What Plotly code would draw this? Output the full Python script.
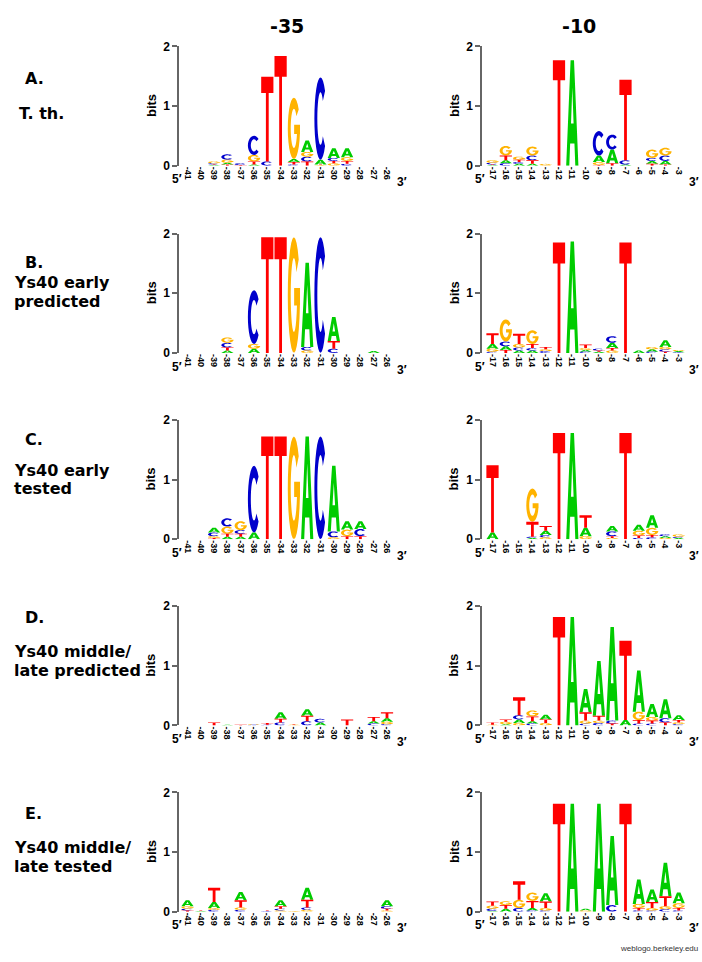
import math
import plotly.graph_objects as go

W, H = 702, 962

# ---------------- data ----------------
pos35 = [-41, -40, -39, -38, -37, -36, -35, -34, -33, -32, -31, -30, -29, -28, -27, -26]
pos10 = [-17, -16, -15, -14, -13, -12, -11, -10, -9, -8, -7, -6, -5, -4, -3]

# A. T. th.  (-35 box)
tth35_A = [0, 0, 0.01, 0.03, 0, 0.02, 0, 0, 0.05, 0.19, 0.08, 0.16, 0.15, 0, 0, 0]
tth35_C = [0, 0, 0.02, 0.09, 0.03, 0.32, 0.07, 0, 0.02, 0.08, 1.38, 0.05, 0.03, 0, 0, 0]
tth35_G = [0, 0, 0.03, 0.05, 0, 0.11, 0, 0, 1.03, 0.08, 0.01, 0.04, 0.06, 0, 0, 0]
tth35_T = [0, 0, 0.01, 0.02, 0.01, 0.05, 1.42, 1.84, 0.04, 0.07, 0.01, 0.04, 0.05, 0, 0, 0]
# A. T. th.  (-10 box)
tth10_A = [0.01, 0.05, 0.03, 0.03, 0, 0, 1.77, 0, 0.11, 0.23, 0.02, 0, 0.05, 0.06, 0]
tth10_C = [0.03, 0.04, 0.03, 0.08, 0, 0, 0, 0, 0.41, 0.25, 0.07, 0, 0.05, 0.09, 0]
tth10_G = [0.04, 0.16, 0.05, 0.15, 0.03, 0, 0, 0, 0.05, 0, 0, 0, 0.14, 0.13, 0]
tth10_T = [0.01, 0.08, 0.04, 0.06, 0, 1.77, 0, 0, 0.01, 0.04, 1.35, 0, 0.03, 0.02, 0]

# B. Ys40 early predicted
ep35_A = [0, 0, 0, 0.04, 0, 0.07, 0, 0, 0, 1.41, 0, 0.40, 0, 0, 0.03, 0]
ep35_C = [0, 0, 0, 0.08, 0, 0.90, 0, 0, 0, 0.06, 1.94, 0.07, 0, 0, 0, 0]
ep35_G = [0, 0, 0, 0.09, 0, 0.08, 0, 0, 1.94, 0.04, 0, 0, 0, 0, 0, 0]
ep35_T = [0, 0, 0, 0.05, 0, 0, 1.94, 1.94, 0, 0, 0, 0.13, 0, 0, 0, 0]
ep10_A = [0.08, 0.06, 0.04, 0.04, 0, 0, 1.87, 0.03, 0.02, 0.09, 0, 0.04, 0.04, 0.11, 0.02]
ep10_C = [0.02, 0.08, 0.05, 0.04, 0.03, 0, 0, 0.02, 0.03, 0.11, 0, 0, 0.02, 0.04, 0.01]
ep10_G = [0.05, 0.37, 0.06, 0.23, 0.03, 0, 0, 0.03, 0, 0.04, 0, 0, 0.04, 0.04, 0.02]
ep10_T = [0.18, 0.05, 0.17, 0.07, 0.04, 1.85, 0, 0.06, 0.02, 0.04, 1.85, 0, 0, 0.02, 0]

# C. Ys40 early tested
et35_A = [0, 0, 0.08, 0.04, 0.04, 0.11, 0, 0, 0, 1.72, 0, 1.10, 0.14, 0.13, 0, 0]
et35_C = [0, 0, 0.06, 0.14, 0.06, 1.12, 0, 0, 0, 0, 1.72, 0.10, 0, 0.12, 0, 0]
et35_G = [0, 0, 0.03, 0.12, 0.15, 0, 0, 0, 1.72, 0, 0, 0.03, 0.11, 0, 0, 0]
et35_T = [0, 0, 0.02, 0.05, 0.05, 0, 1.72, 1.72, 0, 0, 0, 0, 0.05, 0.05, 0, 0]
et10_A = [0.11, 0, 0, 0.02, 0.07, 0, 1.78, 0.14, 0, 0.09, 0, 0.10, 0.21, 0.03, 0.02]
et10_C = [0, 0, 0, 0.02, 0.04, 0, 0, 0, 0, 0.08, 0, 0.02, 0.03, 0.03, 0.02]
et10_G = [0, 0, 0, 0.56, 0.03, 0, 0, 0.05, 0, 0.02, 0, 0.08, 0.12, 0.02, 0.04]
et10_T = [1.13, 0, 0, 0.25, 0.08, 1.78, 0, 0.21, 0, 0.03, 1.78, 0.04, 0.04, 0, 0]

# D. Ys40 middle/late predicted
mp35_A = [0, 0, 0, 0.01, 0, 0, 0, 0.11, 0, 0.11, 0.05, 0, 0, 0, 0.04, 0.06]
mp35_C = [0, 0, 0, 0, 0, 0.01, 0.01, 0.05, 0, 0.07, 0.06, 0, 0, 0, 0.03, 0.02]
mp35_G = [0, 0, 0, 0, 0, 0.01, 0, 0, 0.01, 0, 0, 0, 0, 0, 0, 0.04]
mp35_T = [0, 0, 0.05, 0, 0.01, 0, 0.03, 0.06, 0.01, 0.09, 0, 0, 0.10, 0, 0.07, 0.10]
mp10_A = [0, 0.02, 0.06, 0.04, 0.08, 0, 1.82, 0.39, 0.92, 1.57, 0.09, 0.69, 0.22, 0.32, 0.08]
mp10_C = [0, 0, 0.07, 0.03, 0, 0, 0, 0.03, 0.04, 0.05, 0, 0.03, 0.03, 0.07, 0.02]
mp10_G = [0.01, 0.04, 0.04, 0.10, 0.04, 0, 0, 0.05, 0.04, 0, 0, 0.14, 0.06, 0, 0.03]
mp10_T = [0.04, 0.04, 0.30, 0.08, 0.06, 1.82, 0, 0.14, 0.08, 0.03, 1.33, 0.06, 0.05, 0.05, 0.04]

# E. Ys40 middle/late tested
mt35_A = [0.10, 0.01, 0.10, 0, 0.14, 0, 0, 0.10, 0, 0.20, 0, 0, 0, 0, 0, 0.10]
mt35_C = [0.03, 0, 0.03, 0, 0.03, 0, 0.01, 0.03, 0, 0.04, 0, 0, 0, 0, 0, 0.04]
mt35_G = [0.04, 0, 0.03, 0, 0.04, 0, 0, 0.02, 0.01, 0.03, 0, 0, 0, 0, 0, 0.02]
mt35_T = [0.02, 0.01, 0.24, 0, 0.12, 0, 0.01, 0.04, 0, 0.13, 0, 0, 0, 0, 0, 0.03]
mt10_A = [0.01, 0.05, 0, 0.04, 0.14, 0, 1.81, 0.03, 1.81, 1.16, 0, 0.41, 0.21, 0.56, 0.18]
mt10_C = [0.04, 0, 0.06, 0.02, 0.02, 0, 0, 0, 0, 0.11, 0, 0.02, 0.02, 0.04, 0.02]
mt10_G = [0.05, 0.065, 0.14, 0.14, 0.04, 0, 0, 0.02, 0, 0, 0, 0.07, 0.04, 0.05, 0.08]
mt10_T = [0.07, 0.06, 0.31, 0.12, 0.11, 1.81, 0, 0, 0, 0, 1.81, 0.04, 0.10, 0.17, 0.04]

row_letters = ["A.", "B.", "C.", "D.", "E."]
row_names = [["T. th."], ["Ys40 early", "predicted"], ["Ys40 early", "tested"],
             ["Ys40 middle/", "late predicted"], ["Ys40 middle/", "late tested"]]
col_titles = ["-35", "-10"]

panels = [
    [(tth35_A, tth35_C, tth35_G, tth35_T), (tth10_A, tth10_C, tth10_G, tth10_T)],
    [(ep35_A, ep35_C, ep35_G, ep35_T), (ep10_A, ep10_C, ep10_G, ep10_T)],
    [(et35_A, et35_C, et35_G, et35_T), (et10_A, et10_C, et10_G, et10_T)],
    [(mp35_A, mp35_C, mp35_G, mp35_T), (mp10_A, mp10_C, mp10_G, mp10_T)],
    [(mt35_A, mt35_C, mt35_G, mt35_T), (mt10_A, mt10_C, mt10_G, mt10_T)],
]

# ---------------- styles / geometry ----------------
LETTERS = ["A", "C", "G", "T"]
COLORS = {"A": "#00cc00", "C": "#0000cc", "G": "#ffb300", "T": "#ff0000"}


def arc(cx, cy, rx, ry, a0, a1, n=24):
    out = []
    for k in range(n + 1):
        t = math.radians(a0 + (a1 - a0) * k / n)
        out.append((cx + rx * math.cos(t), cy + ry * math.sin(t)))
    return out


_gi = math.degrees(math.asin((0.41 - 0.5) / 0.32)) + 360
GLYPHS = {
    "T": [[(0, 1), (1, 1), (1, 0.81), (0.615, 0.81), (0.615, 0), (0.385, 0), (0.385, 0.81), (0, 0.81)]],
    "A": [[(0, 0), (0.36, 1), (0.64, 1), (1, 0), (0.745, 0), (0.675, 0.21), (0.325, 0.21), (0.255, 0)],
          [(0.395, 0.40), (0.605, 0.40), (0.5, 0.74)]],
    "C": [arc(0.5, 0.5, 0.5, 0.5, 42, 318) + arc(0.5, 0.5, 0.26, 0.32, 318, 42)],
    "G": [arc(0.5, 0.5, 0.5, 0.5, 38, 350) + [(1.0, 0.413), (1.0, 0.56), (0.52, 0.56), (0.52, 0.41)]
          + arc(0.5, 0.5, 0.26, 0.32, _gi, 38)],
}

ROW_Y0 = [161, 351, 540, 729, 918]     # pixel row of 0 bits
ROW_PX = 121                              # pixels for 2 bits
COL_AXIS = [179, 482]
COL_END = [410, 700]
COL_FIRST = [187.5, 492.5]
STEP = 13.3
LETTER_W = 0.92

fig = go.Figure()
shapes = []
annotations = []
BOLD = dict(family="Liberation Sans", color="#000", weight="bold")


def note(text, px, py, size, family="Liberation Sans", xanchor="center", angle=0, color="#000", weight="bold"):
    annotations.append(dict(text=text, x=px / W, y=(H - py) / H, xref="paper", yref="paper",
                            xanchor=xanchor, yanchor="middle", showarrow=False, textangle=angle,
                            font=dict(size=size, family=family, color=color, weight=weight)))


for r in range(5):
    for c in range(2):
        k = r * 2 + c + 1
        xs = "x" if k == 1 else f"x{k}"
        ys = "y" if k == 1 else f"y{k}"
        xa = "xaxis" if k == 1 else f"xaxis{k}"
        ya = "yaxis" if k == 1 else f"yaxis{k}"
        pos = pos35 if c == 0 else pos10
        n = len(pos)
        y0 = ROW_Y0[r]
        y2 = y0 - ROW_PX
        lo = -(COL_FIRST[c] - COL_AXIS[c]) / STEP
        hi = lo + (COL_END[c] - COL_AXIS[c]) / STEP
        fig.update_layout(**{
            xa: dict(domain=[COL_AXIS[c] / W, COL_END[c] / W], range=[lo, hi], anchor=ys,
                     tickmode="array", tickvals=list(range(n)), ticktext=[str(p) for p in pos],
                     tickangle=90, tickfont=dict(size=9, **BOLD),
                     showline=False, showgrid=False, zeroline=False, ticks="", fixedrange=True),
            ya: dict(domain=[(H - y0) / H, (H - y2) / H], range=[0, 2], anchor=xs,
                     tickmode="array", tickvals=[0, 1, 2], ticktext=["0", "1", "2"],
                     ticks="outside", ticklen=5, tickwidth=1.5, tickcolor="#666",
                     showline=True, linecolor="#666", linewidth=1.5,
                     tickfont=dict(size=12, **BOLD),
                     showgrid=False, zeroline=False, fixedrange=True),
        })
        fig.add_trace(go.Scatter(x=list(range(n)), y=[0] * n, xaxis=xs, yaxis=ys, mode="markers",
                                 marker=dict(opacity=0), showlegend=False, hoverinfo="skip"))
        cols = dict(zip(LETTERS, panels[r][c]))
        paths = {L: [] for L in LETTERS}
        for i in range(n):
            stack = sorted([(cols[L][i], L) for L in LETTERS if cols[L][i] > 0], key=lambda t: t[0])
            base = 0.0
            for h, L in stack:
                for contour in GLYPHS[L]:
                    pts = [(i + (u - 0.5) * LETTER_W, base + v * h) for u, v in contour]
                    seg = "M" + "L".join(f"{px:.4f},{py:.4f}" for px, py in pts) + "Z"
                    paths[L].append(seg)
                base += h
        for L in LETTERS:
            if paths[L]:
                shapes.append(dict(type="path", path="".join(paths[L]), xref=xs, yref=ys,
                                   fillcolor=COLORS[L], line=dict(width=0), fillrule="evenodd",
                                   layer="above"))
        note("bits", COL_AXIS[c] - 28, (y0 + y2) / 2, 13, angle=-90)
        note("5\u2032", COL_AXIS[c] - 2, y0 + 14, 12)
        last = COL_FIRST[c] + (n - 1) * STEP
        note("3\u2032", last + 15, y0 + 17, 12)

# column titles
for cx, t in zip([287, 579], col_titles):
    note(t, cx, 19, 19, family="DejaVu Sans")

# row labels
letter_y = [73, 259, 439, 620, 818]
name_y = [[108], [280, 299], [470, 489], [654, 673], [853, 872]]
for r in range(5):
    note(row_letters[r], 23, letter_y[r], 16, family="DejaVu Sans", xanchor="left")
    xl = 17 if r == 0 else 12
    for txt, yy in zip(row_names[r], name_y[r]):
        note(txt, xl, yy, 16, family="DejaVu Sans", xanchor="left")

note("weblogo.berkeley.edu", 700, 955, 8, xanchor="right", color="#333", weight="normal")

fig.update_layout(width=W, height=H, autosize=False, margin=dict(l=0, r=0, t=0, b=0),
                  paper_bgcolor="white", plot_bgcolor="white", shapes=shapes, annotations=annotations,
                  showlegend=False)

fig.write_html("out.html", config={"displayModeBar": False},
               post_script="document.body.style.margin='0px';document.body.style.overflow='hidden';")
